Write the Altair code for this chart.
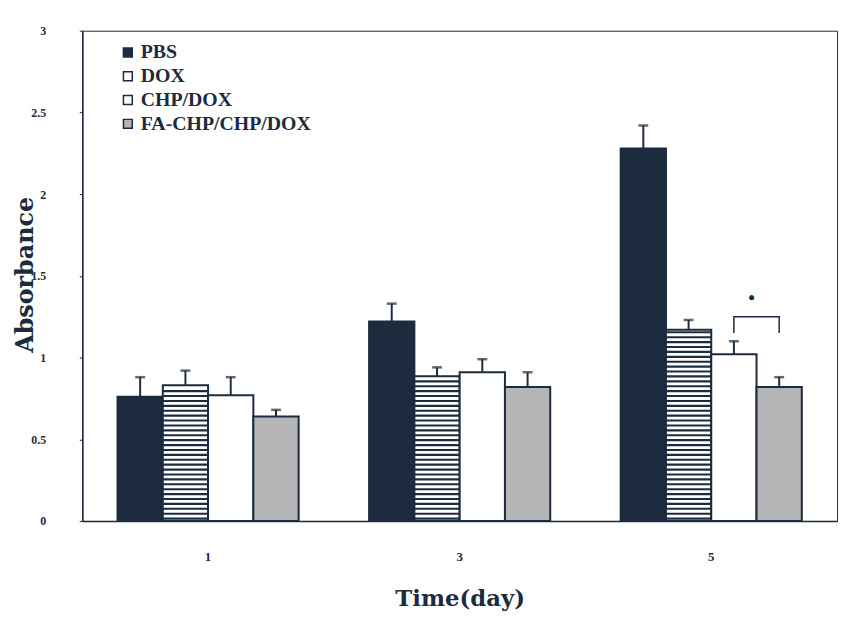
import altair as alt
import pandas as pd

days = ["1", "3", "5"]
groups = ["PBS", "DOX", "CHP/DOX", "FA-CHP/CHP/DOX"]
pbs = [0.76, 1.22, 2.28]
dox = [0.83, 0.885, 1.17]
chp = [0.77, 0.91, 1.02]
fa = [0.64, 0.82, 0.82]
pbs_err = [0.12, 0.11, 0.14]
dox_err = [0.09, 0.055, 0.06]
chp_err = [0.11, 0.08, 0.08]
fa_err = [0.04, 0.09, 0.06]
y_ticks = [0, 0.5, 1, 1.5, 2, 2.5, 3]
bracket_day = "5"
bracket_pair = ["CHP/DOX", "FA-CHP/CHP/DOX"]
bracket_low, bracket_high, star_y = 1.15, 1.25, 1.37

INK = "#1c2b3d"
FONT = "DejaVu Serif"

rows = []
for g, vals, errs in zip(groups, [pbs, dox, chp, fa], [pbs_err, dox_err, chp_err, fa_err]):
    for d, v, e in zip(days, vals, errs):
        rows.append({"Day": d, "Group": g, "Value": v, "Top": v + e})
df = pd.DataFrame(rows)

# horizontal stripe decoration for DOX bars
stripe_rows = []
step = 0.03
for d, v in zip(days, dox):
    k = 0
    while (k + 1) * step <= v:
        lo = k * step + 0.008
        stripe_rows.append({"Day": d, "Group": "DOX", "lo": lo, "hi": lo + 0.013})
        k += 1
stripes = pd.DataFrame(stripe_rows)

bracket = pd.DataFrame([
    {"Day": bracket_day, "Group": bracket_pair[0], "y": bracket_low, "o": 0},
    {"Day": bracket_day, "Group": bracket_pair[0], "y": bracket_high, "o": 1},
    {"Day": bracket_day, "Group": bracket_pair[1], "y": bracket_high, "o": 2},
    {"Day": bracket_day, "Group": bracket_pair[1], "y": bracket_low, "o": 3},
])
star = pd.DataFrame([{"Day": bracket_day, "Group": bracket_pair[0], "y": star_y}])

x_enc = alt.X("Day:N", sort=days, scale=alt.Scale(paddingInner=0.28, paddingOuter=0.14),
              axis=alt.Axis(title="Time(day)", labelAngle=0, ticks=False, labelPadding=30,
                            labelFontSize=13, labelFont="Liberation Serif", labelFontWeight="bold",
                            titleFontSize=23, titleFont=FONT, titleFontWeight="bold",
                            titlePadding=24, labelColor=INK, titleColor=INK,
                            domainColor=INK, domainWidth=1.5))
xo_enc = alt.XOffset("Group:N", sort=groups,
                     scale=alt.Scale(domain=groups, paddingInner=0, paddingOuter=0))
y_scale = alt.Scale(domain=[0, 3], nice=False)

bars = alt.Chart(df).mark_bar(stroke=INK, strokeWidth=2).encode(
    x=x_enc,
    xOffset=xo_enc,
    y=alt.Y("Value:Q", scale=y_scale,
            axis=alt.Axis(title="Absorbance", values=y_ticks, format="~g", grid=False,
                          tickSize=3, tickColor=INK, labelPadding=34, labelFontSize=12,
                          labelFont="Liberation Serif", labelFontWeight="bold",
                          titleFontSize=24, titleFont=FONT, titleFontWeight="bold",
                          titleX=-45, titleY=246, titleAngle=-90, titleBaseline="bottom",
                          labelColor=INK, titleColor=INK,
                          domainColor=INK, domainWidth=1.5)),
    fill=alt.Fill("Group:N", sort=groups,
                  scale=alt.Scale(domain=groups, range=[INK, "#ffffff", "#ffffff", "#b5b5b5"]),
                  legend=alt.Legend(title=None, orient="none", legendX=36, legendY=12,
                                    symbolType="square", symbolSize=80, symbolStrokeColor=INK,
                                    symbolStrokeWidth=1.5, labelFontSize=20,
                                    labelFont="Liberation Serif", labelColor=INK,
                                    labelFontWeight="bold", rowPadding=4, labelOffset=3,
                                    labelLimit=400)),
)

stripe_layer = alt.Chart(stripes).mark_bar(fill=INK).encode(
    x=alt.X("Day:N", sort=days), xOffset=alt.XOffset("Group:N", sort=groups),
    y=alt.Y("lo:Q", scale=y_scale), y2="hi:Q",
)

err_rule = alt.Chart(df).mark_rule(color=INK, strokeWidth=2).encode(
    x=alt.X("Day:N", sort=days), xOffset=alt.XOffset("Group:N", sort=groups),
    y=alt.Y("Value:Q", scale=y_scale), y2="Top:Q",
)
err_cap = alt.Chart(df).mark_tick(color=INK, thickness=2.5, size=10).encode(
    x=alt.X("Day:N", sort=days), xOffset=alt.XOffset("Group:N", sort=groups),
    y=alt.Y("Top:Q", scale=y_scale),
)

bracket_line = alt.Chart(bracket).mark_line(color=INK, strokeWidth=1.5).encode(
    x=alt.X("Day:N", sort=days), xOffset=alt.XOffset("Group:N", sort=groups),
    y=alt.Y("y:Q", scale=y_scale), order="o:Q",
)
star_mark = alt.Chart(star).mark_text(text="●", fontSize=12, color=INK, dx=18).encode(
    x=alt.X("Day:N", sort=days), xOffset=alt.XOffset("Group:N", sort=groups),
    y=alt.Y("y:Q", scale=y_scale),
)

chart = alt.layer(bars, stripe_layer, err_rule, err_cap, bracket_line, star_mark).properties(
    width=762, height=495, autosize="none",
    padding={"left": 75, "top": 20, "right": 4, "bottom": 92},
).configure_view(stroke=INK, strokeWidth=1)

chart.save("out.html", embed_options={"renderer": "svg", "actions": False})
